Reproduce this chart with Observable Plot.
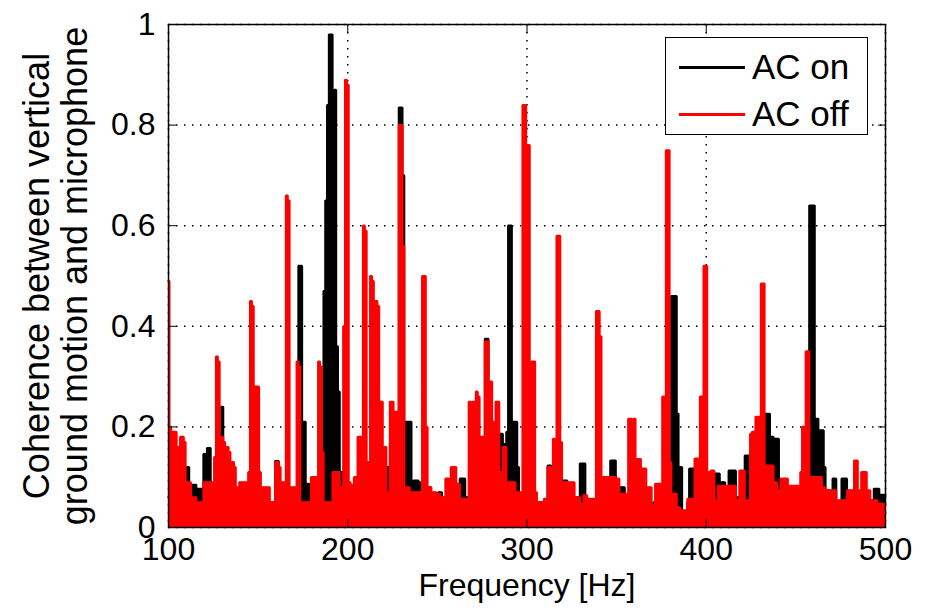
<!DOCTYPE html>
<html>
<head>
<meta charset="utf-8">
<script src="https://cdn.jsdelivr.net/npm/d3@7"></script>
<script src="https://cdn.jsdelivr.net/npm/@observablehq/plot@0.6"></script>
<style>
  body { margin: 0; background: #fff; font-family: "Liberation Sans", Arial, sans-serif; }
  #wrap { position: relative; width: 928px; height: 611px; }
  #legend { position: absolute; left: 665px; top: 37px; width: 203px; height: 98px; border: 1.5px solid #000; background: #fff; box-sizing: border-box; }
  .row { position: absolute; left: 13px; height: 40px; display: flex; align-items: center; }
  .sw { width: 66px; height: 3px; margin-right: 7px; }
  .lab { font-size: 35px; color: #000; line-height: 40px; }
</style>
</head>
<body>
<div id="wrap"></div>
<script>
// Frequency axis: one value per 1 Hz bin starting at 100 Hz (upper envelope of the coherence trace)
const freqStart = 100;
const freqStep = 1;
const xTicks = [100, 200, 300, 400, 500];
const yTicks = [0, 0.2, 0.4, 0.6, 0.8, 1];
const seriesNames = ["AC on", "AC off"];
const seriesColors = ["#000000", "#ff0000"];

// AC on (black), 100..500 Hz
const acOn = [
  0.06,0.06,0.05,0.05,0.03,0.03,0.05,0.05,0.08,0.08,          // 100
  0.12,0.12,0.085,0.085,0.085,0.085,0.077,0.077,0.077,0.077,  // 110
  0.146,0.146,0.158,0.158,0.06,0.06,0.05,0.05,0.06,0.06,      // 120
  0.24,0.05,0.04,0.04,0.06,0.06,0.05,0.05,0.04,0.04,          // 130
  0.06,0.06,0.05,0.05,0.04,0.04,0.06,0.06,0.05,0.05,          // 140
  0.05,0.05,0.04,0.04,0.03,0.03,0.04,0.04,0.05,0.05,          // 150
  0.132,0.132,0.06,0.06,0.05,0.05,0.04,0.04,0.05,0.05,        // 160
  0.06,0.06,0.06,0.52,0.52,0.21,0.21,0.087,0.087,0.06,        // 170
  0.06,0.05,0.05,0.06,0.06,0.06,0.06,0.47,0.65,0.84,          // 180
  0.98,0.98,0.80,0.87,0.36,0.27,0.11,0.11,0.05,0.05,          // 190
  0.06,0.06,0.07,0.07,0.08,0.08,0.10,0.10,0.05,0.05,          // 200
  0.13,0.13,0.13,0.04,0.08,0.08,0.07,0.07,0.09,0.09,          // 210
  0.12,0.12,0.12,0.12,0.12,0.08,0.08,0.10,0.10,0.835,         // 220
  0.835,0.70,0.21,0.21,0.21,0.21,0.05,0.093,0.093,0.093,      // 230
  0.09,0.05,0.05,0.04,0.08,0.08,0.08,0.05,0.05,0.06,          // 240
  0.06,0.07,0.07,0.055,0.05,0.05,0.06,0.06,0.05,0.05,         // 250
  0.083,0.083,0.085,0.097,0.097,0.097,0.06,0.06,0.05,0.05,    // 260
  0.06,0.06,0.07,0.07,0.06,0.06,0.06,0.375,0.375,0.05,        // 270
  0.06,0.06,0.05,0.05,0.05,0.186,0.186,0.166,0.166,0.19,      // 280
  0.60,0.60,0.21,0.21,0.21,0.12,0.06,0.06,0.05,0.05,          // 290
  0.04,0.05,0.05,0.05,0.05,0.04,0.04,0.05,0.05,0.05,          // 300
  0.05,0.05,0.123,0.123,0.05,0.05,0.06,0.06,0.05,0.05,        // 310
  0.093,0.093,0.093,0.05,0.05,0.04,0.04,0.06,0.06,0.06,       // 320
  0.127,0.127,0.127,0.05,0.05,0.04,0.04,0.05,0.05,0.04,       // 330
  0.04,0.05,0.05,0.06,0.06,0.05,0.05,0.133,0.133,0.133,       // 340
  0.05,0.05,0.08,0.08,0.08,0.04,0.04,0.05,0.05,0.05,          // 350
  0.05,0.06,0.06,0.05,0.05,0.04,0.04,0.05,0.05,0.03,          // 360
  0.03,0.05,0.05,0.06,0.06,0.05,0.05,0.06,0.06,0.06,          // 370
  0.06,0.46,0.46,0.46,0.226,0.12,0.12,0.03,0.03,0.03,         // 380
  0.05,0.117,0.117,0.117,0.117,0.05,0.05,0.04,0.04,0.04,      // 390
  0.04,0.05,0.05,0.05,0.05,0.107,0.107,0.107,0.09,0.09,       // 400
  0.09,0.08,0.08,0.113,0.113,0.113,0.113,0.06,0.06,0.05,      // 410
  0.05,0.05,0.143,0.143,0.143,0.05,0.05,0.06,0.06,0.05,       // 420
  0.05,0.06,0.06,0.226,0.226,0.226,0.18,0.18,0.176,0.176,     // 430
  0.176,0.05,0.05,0.04,0.04,0.05,0.05,0.04,0.04,0.05,         // 440
  0.05,0.04,0.04,0.05,0.05,0.04,0.04,0.03,0.64,0.64,          // 450
  0.64,0.216,0.216,0.193,0.193,0.193,0.12,0.074,0.074,0.05,   // 460
  0.05,0.097,0.097,0.03,0.03,0.03,0.097,0.097,0.097,0.05,     // 470
  0.05,0.04,0.04,0.05,0.05,0.04,0.04,0.05,0.05,0.04,          // 480
  0.04,0.054,0.054,0.054,0.077,0.077,0.077,0.065,0.065,0.065, // 490
  0.065                                                       // 500
];

// AC off (red), 100..500 Hz
const acOff = [
  0.49,0.20,0.19,0.19,0.19,0.16,0.16,0.18,0.18,0.17,          // 100
  0.06,0.09,0.09,0.06,0.06,0.06,0.05,0.05,0.05,0.05,          // 110
  0.09,0.09,0.09,0.09,0.09,0.09,0.14,0.34,0.33,0.18,          // 120
  0.18,0.17,0.16,0.16,0.15,0.13,0.13,0.12,0.08,0.08,          // 130
  0.09,0.09,0.09,0.09,0.09,0.11,0.45,0.44,0.28,0.28,          // 140
  0.28,0.11,0.08,0.08,0.08,0.08,0.08,0.05,0.05,0.05,          // 150
  0.13,0.13,0.12,0.09,0.09,0.09,0.66,0.65,0.08,0.08,          // 160
  0.08,0.08,0.33,0.32,0.05,0.05,0.05,0.05,0.05,0.05,          // 170
  0.10,0.10,0.10,0.10,0.33,0.32,0.15,0.05,0.05,0.05,          // 180
  0.05,0.05,0.11,0.11,0.11,0.11,0.08,0.08,0.40,0.89,          // 190
  0.88,0.09,0.085,0.085,0.10,0.10,0.18,0.18,0.18,0.60,        // 200
  0.59,0.13,0.13,0.50,0.49,0.45,0.45,0.44,0.25,0.25,          // 210
  0.12,0.16,0.07,0.07,0.25,0.25,0.22,0.23,0.23,0.80,          // 220
  0.80,0.56,0.08,0.08,0.08,0.07,0.07,0.07,0.07,0.07,          // 230
  0.07,0.07,0.50,0.50,0.20,0.08,0.08,0.07,0.07,0.07,          // 240
  0.067,0.067,0.06,0.06,0.06,0.097,0.097,0.095,0.12,0.12,     // 250
  0.12,0.087,0.087,0.057,0.057,0.057,0.057,0.057,0.25,0.24,   // 260
  0.25,0.25,0.27,0.26,0.18,0.18,0.18,0.37,0.37,0.25,          // 270
  0.29,0.21,0.20,0.25,0.25,0.11,0.11,0.16,0.16,0.09,          // 280
  0.09,0.09,0.09,0.09,0.07,0.07,0.07,0.07,0.84,0.84,          // 290
  0.76,0.76,0.12,0.33,0.33,0.07,0.05,0.05,0.05,0.05,          // 300
  0.057,0.057,0.12,0.12,0.12,0.176,0.17,0.58,0.58,0.17,       // 310
  0.09,0.09,0.09,0.09,0.09,0.09,0.09,0.06,0.06,0.06,          // 320
  0.047,0.047,0.064,0.064,0.057,0.057,0.057,0.057,0.057,0.43, // 330
  0.43,0.38,0.10,0.10,0.10,0.10,0.10,0.10,0.10,0.10,          // 340
  0.097,0.097,0.067,0.067,0.067,0.067,0.067,0.216,0.216,0.21, // 350
  0.216,0.136,0.136,0.136,0.117,0.117,0.117,0.08,0.08,0.08,   // 360
  0.044,0.044,0.087,0.087,0.087,0.087,0.26,0.26,0.75,0.75,    // 370
  0.13,0.067,0.067,0.067,0.04,0.04,0.034,0.034,0.034,0.034,   // 380
  0.057,0.057,0.057,0.057,0.137,0.137,0.137,0.26,0.26,0.52,   // 390
  0.52,0.11,0.11,0.113,0.113,0.054,0.054,0.083,0.083,0.083,   // 400
  0.083,0.083,0.083,0.083,0.083,0.083,0.083,0.054,0.054,0.113,// 410
  0.113,0.113,0.054,0.054,0.054,0.186,0.19,0.19,0.22,0.22,    // 420
  0.22,0.485,0.485,0.123,0.123,0.123,0.123,0.123,0.09,0.09,   // 430
  0.074,0.074,0.097,0.097,0.097,0.097,0.083,0.083,0.083,0.083,// 440
  0.083,0.083,0.083,0.11,0.20,0.20,0.35,0.35,0.10,0.10,       // 450
  0.10,0.10,0.10,0.10,0.10,0.08,0.08,0.074,0.074,0.074,       // 460
  0.074,0.074,0.074,0.054,0.054,0.054,0.054,0.054,0.054,0.074,// 470
  0.074,0.074,0.074,0.133,0.133,0.074,0.074,0.11,0.11,0.11,   // 480
  0.074,0.074,0.054,0.054,0.054,0.054,0.047,0.047,0.047,0.047,// 490
  0.047                                                       // 500
];

const onData = acOn.map((v, i) => ({f: freqStart + i * freqStep, v}));
const offData = acOff.map((v, i) => ({f: freqStart + i * freqStep, v}));

const font = '"Liberation Sans", Arial, sans-serif';
const gridStyle = {stroke: "#000", strokeOpacity: 1, strokeWidth: 1.5, strokeDasharray: "1.5,6.5"};

function traceMarks(data, color) {
  return [
    Plot.areaY(data, {x: "f", y: "v", fill: color, fillOpacity: 1, curve: "step"}),
    Plot.line(data, {x: "f", y: "v", stroke: color, strokeWidth: 2.2, curve: "step", strokeLinejoin: "miter"})
  ];
}

const chart = Plot.plot({
  width: 928,
  height: 611,
  marginLeft: 168,
  marginRight: 43,
  marginTop: 24,
  marginBottom: 84,
  style: {fontFamily: font, fontSize: "32px", color: "#000", background: "#fff", overflow: "visible"},
  x: {domain: [100, 500]},
  y: {domain: [0, 1]},
  marks: [
    Plot.gridX(xTicks, gridStyle),
    Plot.gridY(yTicks, gridStyle),
    ...traceMarks(onData, seriesColors[0]),
    ...traceMarks(offData, seriesColors[1]),
    Plot.frame({stroke: "#000", strokeWidth: 1.5}),
    Plot.axisX(xTicks, {anchor: "bottom", tickSize: -8, tickPadding: 18, tickFormat: d => String(d), label: null, fontSize: 32}),
    Plot.axisX(xTicks, {anchor: "top", tickSize: -8, tickFormat: () => "", label: null}),
    Plot.axisY(yTicks, {anchor: "left", tickSize: -8, tickPadding: 21, tickFormat: d => String(d), label: null, fontSize: 32}),
    Plot.axisY(yTicks, {anchor: "right", tickSize: -8, tickFormat: () => "", label: null}),
    Plot.text(["Frequency [Hz]"], {frameAnchor: "bottom", dy: 68, fontSize: 32, fill: "#000"}),
    Plot.text(["Coherence between vertical\nground motion and microphone"], {frameAnchor: "left", textAnchor: "middle", rotate: -90, dx: -113, fontSize: 36, lineHeight: 1.06, fill: "#000"})
  ]
});

const wrap = document.getElementById("wrap");
wrap.appendChild(chart);

// Legend (MATLAB-style box in the upper right of the axes)
const legend = document.createElement("div");
legend.id = "legend";
seriesNames.forEach((name, i) => {
  const row = document.createElement("div");
  row.className = "row";
  row.style.top = (i === 0 ? 9 : 56) + "px";
  const sw = document.createElement("div");
  sw.className = "sw";
  sw.style.background = seriesColors[i];
  const lab = document.createElement("span");
  lab.className = "lab";
  lab.textContent = name;
  row.appendChild(sw);
  row.appendChild(lab);
  legend.appendChild(row);
});
wrap.appendChild(legend);
</script>
</body>
</html>
